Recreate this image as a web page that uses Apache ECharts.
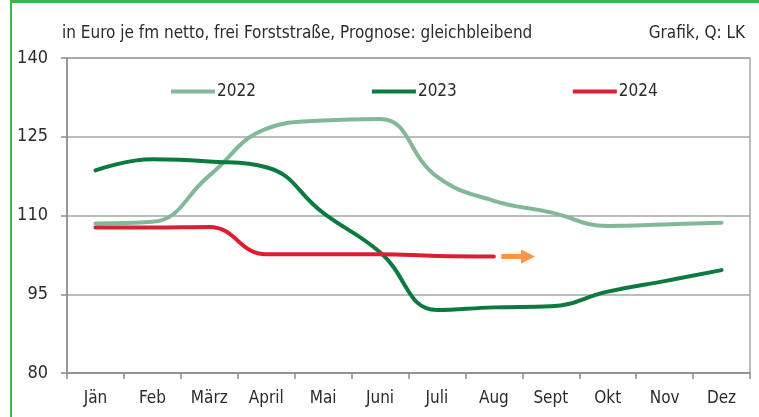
<!DOCTYPE html>
<html>
<head>
<meta charset="utf-8">
<script src="https://cdn.jsdelivr.net/npm/echarts@6/dist/echarts.min.js"></script>
<style>
  body { margin: 0; background: #fff; }
  #frame {
    position: absolute; left: 10px; top: 0; width: 760px; height: 430px;
    border-left: 2px solid #3cb54a; border-top: 3px solid #3cb54a;
  }
  #chart { position: absolute; left: 0; top: 0; width: 759px; height: 417px; }
</style>
</head>
<body>
<div id="frame"></div>
<div id="chart"></div>
<script>
// Monate
const months = ["Jän", "Feb", "März", "April", "Mai", "Juni", "Juli", "Aug", "Sept", "Okt", "Nov", "Dez"];
// Preise in Euro je fm
const values2022 = [108.5, 108.8, 117.6, 126.5, 128.1, 128.4, 117.4, 112.8, 110.6, 108.0, 108.3, 108.6];
const values2023 = [118.6, 120.7, 120.3, 119.2, 110.5, 103.0, 92.0, 92.5, 92.7, 95.5, 97.5, 99.6];
const values2024 = [107.7, 107.7, 107.8, 102.6, 102.6, 102.6, 102.3, 102.2];
// Prognose-Pfeil (gleichbleibend), Position auf Monatsindex
const arrowFrom = [7.13, 102.2];
const arrowTo = [7.6, 102.2];

// schmale Schrift: "condensed" geht über den font-Shorthand mit
const font = "'DejaVu Sans', sans-serif";
const fw = "condensed";
const txt = "#2b2b2b";

const chart = echarts.init(document.getElementById("chart"));
chart.setOption({
  animation: false,
  textStyle: { fontFamily: font, fontWeight: fw },
  title: [
    {
      text: "in Euro je fm netto, frei Forststraße, Prognose: gleichbleibend",
      left: 57, top: 20,
      textStyle: { fontFamily: font, fontSize: 17, fontWeight: fw, color: txt }
    },
    {
      text: "Grafik, Q: LK",
      right: 9, top: 20,
      textStyle: { fontFamily: font, fontSize: 17, fontWeight: fw, color: txt }
    }
  ],
  legend: {
    data: ["2022", "2023", "2024"],
    left: 166, top: 78,
    itemWidth: 44, itemHeight: 4, itemGap: 116,
    icon: "rect",
    textStyle: { fontFamily: font, fontSize: 17, fontWeight: fw, color: txt, padding: [0, 0, 0, -3] }
  },
  grid: {
    left: 67, right: 9, top: 58, bottom: 44,
    show: true, borderColor: "#a6a6a6", borderWidth: 1.5,
    containLabel: false
  },
  xAxis: [
    {
      type: "category",
      data: months,
      boundaryGap: true,
      axisLine: { onZero: false, lineStyle: { color: "#8c8c8c", width: 1.5 } },
      axisTick: { show: true, length: 6, lineStyle: { color: "#8c8c8c", width: 1.5 } },
      axisLabel: { fontFamily: font, fontWeight: fw, fontSize: 17, color: txt, margin: 17 }
    },
    {
      type: "value", min: -0.5, max: 11.5, show: false
    }
  ],
  yAxis: {
    type: "value",
    min: 80, max: 140, interval: 15,
    axisLine: { show: true, onZero: false, lineStyle: { color: "#8c8c8c", width: 1.5 } },
    axisTick: { show: true, length: 6, lineStyle: { color: "#8c8c8c", width: 1.5 } },
    splitLine: { lineStyle: { color: "#a6a6a6", width: 1.5 } },
    axisLabel: { fontFamily: font, fontWeight: fw, fontSize: 18, color: txt, margin: 19 }
  },
  series: [
    {
      name: "2022", type: "line", data: values2022, smooth: 0.45,
      symbol: "none", color: "#82b897",
      lineStyle: { width: 4, color: "#82b897", cap: "round" }
    },
    {
      name: "2023", type: "line", data: values2023, smooth: 0.45,
      symbol: "none", color: "#0a7a3e",
      lineStyle: { width: 4, color: "#0a7a3e", cap: "round" }
    },
    {
      name: "2024", type: "line", data: values2024, smooth: 0.45,
      symbol: "none", color: "#dc1e32",
      lineStyle: { width: 4, color: "#dc1e32", cap: "round" }
    },
    {
      name: "Prognose", type: "line", xAxisIndex: 1,
      data: [arrowFrom, arrowTo], symbol: "none",
      lineStyle: { opacity: 0 },
      markLine: {
        silent: true,
        symbol: ["none", "triangle"],
        symbolSize: [14, 14],
        label: { show: false },
        lineStyle: { color: "#f79646", width: 5, type: "solid" },
        data: [[{ coord: arrowFrom }, { coord: arrowTo }]]
      }
    }
  ]
});
</script>
</body>
</html>
